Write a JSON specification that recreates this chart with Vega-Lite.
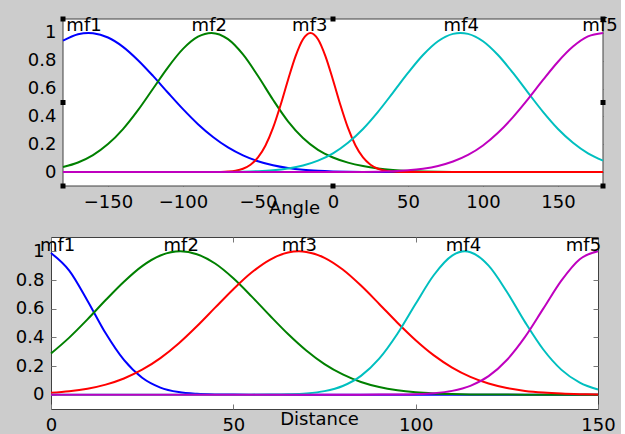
{
  "$schema": "https://vega.github.io/schema/vega-lite/v6.json",
  "background": "#cccccc",
  "padding": {"left": 5, "top": 16, "right": 3, "bottom": 0},
  "spacing": 19,
  "config": {
    "font": "DejaVu Sans",
    "view": {"stroke": "#404040", "strokeWidth": 1, "fill": "white"},
    "axis": {
      "domain": false,
      "grid": false,
      "tickSize": -5,
      "tickColor": "#777777",
      "labelPadding": 12,
      "labelFont": "DejaVu Sans",
      "labelFontSize": 18,
      "labelColor": "black",
      "labelFlush": false,
      "labelOverlap": false,
      "titleFont": "DejaVu Sans",
      "titleFontSize": 18,
      "titleFontWeight": "normal",
      "titleColor": "black"
    }
  },
  "datasets": {
    "angle": [
      {"mf": "mf1", "x": -180, "m": 0.944}, {"mf": "mf1", "x": -170, "m": 0.990}, {"mf": "mf1", "x": -163, "m": 1.0},
      {"mf": "mf1", "x": -160, "m": 0.998}, {"mf": "mf1", "x": -150, "m": 0.967}, {"mf": "mf1", "x": -140, "m": 0.900},
      {"mf": "mf1", "x": -130, "m": 0.804}, {"mf": "mf1", "x": -120, "m": 0.691}, {"mf": "mf1", "x": -110, "m": 0.570},
      {"mf": "mf1", "x": -100, "m": 0.452}, {"mf": "mf1", "x": -90, "m": 0.344}, {"mf": "mf1", "x": -80, "m": 0.252},
      {"mf": "mf1", "x": -70, "m": 0.177}, {"mf": "mf1", "x": -60, "m": 0.120}, {"mf": "mf1", "x": -50, "m": 0.078},
      {"mf": "mf1", "x": -40, "m": 0.0485}, {"mf": "mf1", "x": -30, "m": 0.0291}, {"mf": "mf1", "x": -20, "m": 0.0167},
      {"mf": "mf1", "x": -10, "m": 0.0093}, {"mf": "mf1", "x": 0, "m": 0.0049}, {"mf": "mf1", "x": 10, "m": 0.0025},
      {"mf": "mf1", "x": 20, "m": 0.0012}, {"mf": "mf1", "x": 30, "m": 0.0006}, {"mf": "mf1", "x": 40, "m": 0.0003},
      {"mf": "mf1", "x": 50, "m": 0.0001}, {"mf": "mf1", "x": 60, "m": 0}, {"mf": "mf1", "x": 100, "m": 0},
      {"mf": "mf1", "x": 140, "m": 0}, {"mf": "mf1", "x": 180, "m": 0},

      {"mf": "mf2", "x": -180, "m": 0.0367}, {"mf": "mf2", "x": -170, "m": 0.0691}, {"mf": "mf2", "x": -160, "m": 0.122},
      {"mf": "mf2", "x": -150, "m": 0.201}, {"mf": "mf2", "x": -140, "m": 0.309}, {"mf": "mf2", "x": -130, "m": 0.445},
      {"mf": "mf2", "x": -120, "m": 0.599}, {"mf": "mf2", "x": -110, "m": 0.753}, {"mf": "mf2", "x": -100, "m": 0.885},
      {"mf": "mf2", "x": -90, "m": 0.973}, {"mf": "mf2", "x": -81, "m": 1.0}, {"mf": "mf2", "x": -70, "m": 0.955},
      {"mf": "mf2", "x": -60, "m": 0.845}, {"mf": "mf2", "x": -50, "m": 0.69}, {"mf": "mf2", "x": -40, "m": 0.52},
      {"mf": "mf2", "x": -30, "m": 0.365}, {"mf": "mf2", "x": -20, "m": 0.245}, {"mf": "mf2", "x": -10, "m": 0.16},
      {"mf": "mf2", "x": 0, "m": 0.105}, {"mf": "mf2", "x": 10, "m": 0.068}, {"mf": "mf2", "x": 20, "m": 0.043},
      {"mf": "mf2", "x": 30, "m": 0.026}, {"mf": "mf2", "x": 40, "m": 0.015}, {"mf": "mf2", "x": 50, "m": 0.008},
      {"mf": "mf2", "x": 60, "m": 0.004}, {"mf": "mf2", "x": 70, "m": 0.002}, {"mf": "mf2", "x": 80, "m": 0.001},
      {"mf": "mf2", "x": 90, "m": 0.0005}, {"mf": "mf2", "x": 100, "m": 0}, {"mf": "mf2", "x": 140, "m": 0},
      {"mf": "mf2", "x": 180, "m": 0},

      {"mf": "mf3", "x": -180, "m": 0}, {"mf": "mf3", "x": -140, "m": 0}, {"mf": "mf3", "x": -100, "m": 0},
      {"mf": "mf3", "x": -90, "m": 0}, {"mf": "mf3", "x": -80, "m": 0.0004}, {"mf": "mf3", "x": -75, "m": 0.0013},
      {"mf": "mf3", "x": -70, "m": 0.0039}, {"mf": "mf3", "x": -65, "m": 0.0101}, {"mf": "mf3", "x": -60, "m": 0.0243},
      {"mf": "mf3", "x": -55, "m": 0.053}, {"mf": "mf3", "x": -50, "m": 0.105}, {"mf": "mf3", "x": -45, "m": 0.191},
      {"mf": "mf3", "x": -40, "m": 0.317}, {"mf": "mf3", "x": -35, "m": 0.480}, {"mf": "mf3", "x": -30, "m": 0.662},
      {"mf": "mf3", "x": -25, "m": 0.832}, {"mf": "mf3", "x": -20, "m": 0.955}, {"mf": "mf3", "x": -15, "m": 1.0},
      {"mf": "mf3", "x": -10, "m": 0.955}, {"mf": "mf3", "x": -5, "m": 0.832}, {"mf": "mf3", "x": 0, "m": 0.662},
      {"mf": "mf3", "x": 5, "m": 0.480}, {"mf": "mf3", "x": 10, "m": 0.317}, {"mf": "mf3", "x": 15, "m": 0.191},
      {"mf": "mf3", "x": 20, "m": 0.105}, {"mf": "mf3", "x": 25, "m": 0.053}, {"mf": "mf3", "x": 30, "m": 0.0243},
      {"mf": "mf3", "x": 35, "m": 0.0101}, {"mf": "mf3", "x": 40, "m": 0.0039}, {"mf": "mf3", "x": 45, "m": 0.0013},
      {"mf": "mf3", "x": 50, "m": 0.0004}, {"mf": "mf3", "x": 60, "m": 0}, {"mf": "mf3", "x": 100, "m": 0},
      {"mf": "mf3", "x": 140, "m": 0}, {"mf": "mf3", "x": 180, "m": 0},

      {"mf": "mf4", "x": -180, "m": 0}, {"mf": "mf4", "x": -140, "m": 0}, {"mf": "mf4", "x": -110, "m": 0},
      {"mf": "mf4", "x": -100, "m": 0.0001}, {"mf": "mf4", "x": -90, "m": 0.0002}, {"mf": "mf4", "x": -80, "m": 0.0005},
      {"mf": "mf4", "x": -70, "m": 0.0013}, {"mf": "mf4", "x": -60, "m": 0.003}, {"mf": "mf4", "x": -50, "m": 0.0064},
      {"mf": "mf4", "x": -40, "m": 0.0132}, {"mf": "mf4", "x": -30, "m": 0.0257}, {"mf": "mf4", "x": -20, "m": 0.0473},
      {"mf": "mf4", "x": -10, "m": 0.0822}, {"mf": "mf4", "x": 0, "m": 0.135}, {"mf": "mf4", "x": 10, "m": 0.211},
      {"mf": "mf4", "x": 20, "m": 0.310}, {"mf": "mf4", "x": 30, "m": 0.433}, {"mf": "mf4", "x": 40, "m": 0.571},
      {"mf": "mf4", "x": 50, "m": 0.712}, {"mf": "mf4", "x": 60, "m": 0.841}, {"mf": "mf4", "x": 70, "m": 0.940},
      {"mf": "mf4", "x": 80, "m": 0.993}, {"mf": "mf4", "x": 85, "m": 1.0}, {"mf": "mf4", "x": 90, "m": 0.993},
      {"mf": "mf4", "x": 100, "m": 0.940}, {"mf": "mf4", "x": 110, "m": 0.841}, {"mf": "mf4", "x": 120, "m": 0.712},
      {"mf": "mf4", "x": 130, "m": 0.571}, {"mf": "mf4", "x": 140, "m": 0.433}, {"mf": "mf4", "x": 150, "m": 0.310},
      {"mf": "mf4", "x": 160, "m": 0.211}, {"mf": "mf4", "x": 170, "m": 0.135}, {"mf": "mf4", "x": 180, "m": 0.0822},

      {"mf": "mf5", "x": -180, "m": 0}, {"mf": "mf5", "x": -140, "m": 0}, {"mf": "mf5", "x": -100, "m": 0},
      {"mf": "mf5", "x": -60, "m": 0}, {"mf": "mf5", "x": -20, "m": 0}, {"mf": "mf5", "x": -10, "m": 0.0001},
      {"mf": "mf5", "x": 0, "m": 0.0002}, {"mf": "mf5", "x": 10, "m": 0.0006}, {"mf": "mf5", "x": 20, "m": 0.0013},
      {"mf": "mf5", "x": 30, "m": 0.003}, {"mf": "mf5", "x": 40, "m": 0.0063}, {"mf": "mf5", "x": 50, "m": 0.0127},
      {"mf": "mf5", "x": 60, "m": 0.0243}, {"mf": "mf5", "x": 70, "m": 0.0439}, {"mf": "mf5", "x": 80, "m": 0.0756},
      {"mf": "mf5", "x": 90, "m": 0.123}, {"mf": "mf5", "x": 100, "m": 0.191}, {"mf": "mf5", "x": 110, "m": 0.282},
      {"mf": "mf5", "x": 120, "m": 0.395}, {"mf": "mf5", "x": 130, "m": 0.524}, {"mf": "mf5", "x": 140, "m": 0.662},
      {"mf": "mf5", "x": 150, "m": 0.793}, {"mf": "mf5", "x": 160, "m": 0.902}, {"mf": "mf5", "x": 170, "m": 0.975},
      {"mf": "mf5", "x": 180, "m": 1.0}
    ],
    "distance": [
      {"mf": "mf1", "x": 0, "m": 0.988}, {"mf": "mf1", "x": 5, "m": 0.866}, {"mf": "mf1", "x": 10, "m": 0.656},
      {"mf": "mf1", "x": 15, "m": 0.428}, {"mf": "mf1", "x": 20, "m": 0.242}, {"mf": "mf1", "x": 25, "m": 0.118},
      {"mf": "mf1", "x": 30, "m": 0.0496}, {"mf": "mf1", "x": 35, "m": 0.018}, {"mf": "mf1", "x": 40, "m": 0.0057},
      {"mf": "mf1", "x": 45, "m": 0.0015}, {"mf": "mf1", "x": 50, "m": 0.0004}, {"mf": "mf1", "x": 55, "m": 0.0001},
      {"mf": "mf1", "x": 60, "m": 0}, {"mf": "mf1", "x": 90, "m": 0}, {"mf": "mf1", "x": 120, "m": 0},
      {"mf": "mf1", "x": 150, "m": 0},

      {"mf": "mf2", "x": 0, "m": 0.287}, {"mf": "mf2", "x": 5, "m": 0.398}, {"mf": "mf2", "x": 10, "m": 0.525},
      {"mf": "mf2", "x": 15, "m": 0.660}, {"mf": "mf2", "x": 20, "m": 0.788}, {"mf": "mf2", "x": 25, "m": 0.897},
      {"mf": "mf2", "x": 30, "m": 0.971}, {"mf": "mf2", "x": 35.5, "m": 1.0}, {"mf": "mf2", "x": 40, "m": 0.980},
      {"mf": "mf2", "x": 45, "m": 0.915}, {"mf": "mf2", "x": 50, "m": 0.812}, {"mf": "mf2", "x": 55, "m": 0.686},
      {"mf": "mf2", "x": 60, "m": 0.552}, {"mf": "mf2", "x": 65, "m": 0.423}, {"mf": "mf2", "x": 70, "m": 0.308},
      {"mf": "mf2", "x": 75, "m": 0.213}, {"mf": "mf2", "x": 80, "m": 0.141}, {"mf": "mf2", "x": 85, "m": 0.088},
      {"mf": "mf2", "x": 90, "m": 0.0528}, {"mf": "mf2", "x": 95, "m": 0.0301}, {"mf": "mf2", "x": 100, "m": 0.0163},
      {"mf": "mf2", "x": 105, "m": 0.0084}, {"mf": "mf2", "x": 110, "m": 0.0041}, {"mf": "mf2", "x": 115, "m": 0.0019},
      {"mf": "mf2", "x": 120, "m": 0.0009}, {"mf": "mf2", "x": 125, "m": 0.0004}, {"mf": "mf2", "x": 130, "m": 0.0002},
      {"mf": "mf2", "x": 140, "m": 0}, {"mf": "mf2", "x": 150, "m": 0},

      {"mf": "mf3", "x": 0, "m": 0.0126}, {"mf": "mf3", "x": 5, "m": 0.0235}, {"mf": "mf3", "x": 10, "m": 0.0416},
      {"mf": "mf3", "x": 15, "m": 0.0703}, {"mf": "mf3", "x": 20, "m": 0.113}, {"mf": "mf3", "x": 25, "m": 0.174},
      {"mf": "mf3", "x": 30, "m": 0.255}, {"mf": "mf3", "x": 35, "m": 0.357}, {"mf": "mf3", "x": 40, "m": 0.477},
      {"mf": "mf3", "x": 45, "m": 0.607}, {"mf": "mf3", "x": 50, "m": 0.736}, {"mf": "mf3", "x": 55, "m": 0.852},
      {"mf": "mf3", "x": 60, "m": 0.941}, {"mf": "mf3", "x": 65, "m": 0.992}, {"mf": "mf3", "x": 68, "m": 1.0},
      {"mf": "mf3", "x": 70, "m": 0.996}, {"mf": "mf3", "x": 75, "m": 0.955}, {"mf": "mf3", "x": 80, "m": 0.873},
      {"mf": "mf3", "x": 85, "m": 0.761}, {"mf": "mf3", "x": 90, "m": 0.633}, {"mf": "mf3", "x": 95, "m": 0.502},
      {"mf": "mf3", "x": 100, "m": 0.380}, {"mf": "mf3", "x": 105, "m": 0.274}, {"mf": "mf3", "x": 110, "m": 0.189},
      {"mf": "mf3", "x": 115, "m": 0.124}, {"mf": "mf3", "x": 120, "m": 0.0776}, {"mf": "mf3", "x": 125, "m": 0.0464},
      {"mf": "mf3", "x": 130, "m": 0.0264}, {"mf": "mf3", "x": 135, "m": 0.0144}, {"mf": "mf3", "x": 140, "m": 0.0074},
      {"mf": "mf3", "x": 145, "m": 0.0037}, {"mf": "mf3", "x": 150, "m": 0.0017},

      {"mf": "mf4", "x": 0, "m": 0}, {"mf": "mf4", "x": 25, "m": 0}, {"mf": "mf4", "x": 50, "m": 0},
      {"mf": "mf4", "x": 55, "m": 0.0002}, {"mf": "mf4", "x": 60, "m": 0.0008}, {"mf": "mf4", "x": 65, "m": 0.0028},
      {"mf": "mf4", "x": 70, "m": 0.0088}, {"mf": "mf4", "x": 75, "m": 0.0246}, {"mf": "mf4", "x": 80, "m": 0.0605},
      {"mf": "mf4", "x": 85, "m": 0.131}, {"mf": "mf4", "x": 90, "m": 0.251}, {"mf": "mf4", "x": 95, "m": 0.425},
      {"mf": "mf4", "x": 100, "m": 0.634}, {"mf": "mf4", "x": 105, "m": 0.835}, {"mf": "mf4", "x": 110, "m": 0.970},
      {"mf": "mf4", "x": 113.5, "m": 1.0}, {"mf": "mf4", "x": 115, "m": 0.994}, {"mf": "mf4", "x": 120, "m": 0.900},
      {"mf": "mf4", "x": 125, "m": 0.718}, {"mf": "mf4", "x": 130, "m": 0.506}, {"mf": "mf4", "x": 135, "m": 0.315},
      {"mf": "mf4", "x": 140, "m": 0.173}, {"mf": "mf4", "x": 145, "m": 0.0837}, {"mf": "mf4", "x": 150, "m": 0.0358},

      {"mf": "mf5", "x": 0, "m": 0}, {"mf": "mf5", "x": 30, "m": 0}, {"mf": "mf5", "x": 60, "m": 0},
      {"mf": "mf5", "x": 80, "m": 0}, {"mf": "mf5", "x": 85, "m": 0.0001}, {"mf": "mf5", "x": 90, "m": 0.0003},
      {"mf": "mf5", "x": 95, "m": 0.001}, {"mf": "mf5", "x": 100, "m": 0.0034}, {"mf": "mf5", "x": 105, "m": 0.01},
      {"mf": "mf5", "x": 110, "m": 0.0264}, {"mf": "mf5", "x": 115, "m": 0.0618}, {"mf": "mf5", "x": 120, "m": 0.129},
      {"mf": "mf5", "x": 125, "m": 0.242}, {"mf": "mf5", "x": 130, "m": 0.403}, {"mf": "mf5", "x": 135, "m": 0.600},
      {"mf": "mf5", "x": 140, "m": 0.797}, {"mf": "mf5", "x": 145, "m": 0.945}, {"mf": "mf5", "x": 150, "m": 1.0}
    ],
    "angleLabels": [
      {"label": "mf1", "x": -166, "y": 1.012}, {"label": "mf2", "x": -82.5, "y": 1.012},
      {"label": "mf3", "x": -15.5, "y": 1.012}, {"label": "mf4", "x": 85.5, "y": 1.012},
      {"label": "mf5", "x": 178, "y": 1.012}
    ],
    "distanceLabels": [
      {"label": "mf1", "x": 1.8, "y": 1.0}, {"label": "mf2", "x": 35.7, "y": 1.0},
      {"label": "mf3", "x": 68.1, "y": 1.0}, {"label": "mf4", "x": 113.1, "y": 1.0},
      {"label": "mf5", "x": 146, "y": 1.0}
    ],
    "handles": [
      {"x": -180, "y": 1.1}, {"x": 0, "y": 1.1}, {"x": 180, "y": 1.1},
      {"x": -180, "y": 0.5}, {"x": 180, "y": 0.5},
      {"x": -180, "y": -0.1}, {"x": 0, "y": -0.1}, {"x": 180, "y": -0.1}
    ]
  },
  "vconcat": [
    {
      "width": 552,
      "height": 167,
      "view": {"stroke": null, "fill": null},
      "layer": [
        {
          "data": {"values": [{}]},
          "mark": {"type": "rect", "fill": "white", "stroke": "#404040", "strokeWidth": 1},
          "encoding": {
            "x": {"datum": -180, "type": "quantitative", "scale": {"domain": [-188, 180], "nice": false, "zero": false}, "axis": null},
            "x2": {"datum": 180},
            "y": {"datum": -0.1, "type": "quantitative", "scale": {"domain": [-0.1, 1.1], "nice": false, "zero": false}, "axis": null},
            "y2": {"datum": 1.1}
          }
        },
        {
          "data": {"name": "angle"},
          "mark": {"type": "line", "strokeWidth": 2, "interpolate": "monotone"},
          "encoding": {
            "x": {
              "field": "x", "type": "quantitative",
              "axis": {"values": [-150, -100, -50, 0, 50, 100, 150], "title": "Angle", "titleX": 243, "titleY": 27, "titleBaseline": "alphabetic"}
            },
            "y": {
              "field": "m", "type": "quantitative",
              "axis": {"values": [0, 0.2, 0.4, 0.6, 0.8, 1], "format": "~g", "title": null, "offset": -12, "minExtent": 0}
            },
            "color": {
              "field": "mf", "type": "nominal",
              "scale": {"domain": ["mf1", "mf2", "mf3", "mf4", "mf5"], "range": ["#0000ff", "#008000", "#ff0000", "#00bfbf", "#bf00bf"]},
              "legend": null
            }
          }
        },
        {
          "data": {"name": "angleLabels"},
          "mark": {"type": "text", "fontSize": 18, "align": "center", "baseline": "alphabetic", "color": "black"},
          "encoding": {
            "x": {"field": "x", "type": "quantitative", "axis": {"orient": "top", "labels": false, "title": null, "values": [-150, -100, -50, 0, 50, 100, 150]}},
            "y": {"field": "y", "type": "quantitative", "axis": {"orient": "right", "labels": false, "title": null, "values": [0, 0.2, 0.4, 0.6, 0.8, 1], "minExtent": 0}},
            "text": {"field": "label"}
          }
        },
        {
          "data": {"name": "handles"},
          "mark": {"type": "point", "shape": "square", "size": 25, "filled": true, "color": "black", "opacity": 1},
          "encoding": {
            "x": {"field": "x", "type": "quantitative", "axis": null},
            "y": {"field": "y", "type": "quantitative", "axis": null}
          }
        }
      ],
      "resolve": {"axis": {"x": "independent", "y": "independent"}}
    },
    {
      "width": 547,
      "height": 172,
      "layer": [
        {
          "data": {"name": "distance"},
          "mark": {"type": "line", "strokeWidth": 2, "interpolate": "monotone"},
          "encoding": {
            "x": {
              "field": "x", "type": "quantitative",
              "scale": {"domain": [0, 150], "nice": false},
              "axis": {"values": [0, 50, 100, 150], "title": "Distance", "titleX": 268, "titleY": 15, "titleBaseline": "alphabetic"}
            },
            "y": {
              "field": "m", "type": "quantitative",
              "scale": {"domain": [-0.1, 1.1], "nice": false, "zero": false},
              "axis": {"values": [0, 0.2, 0.4, 0.6, 0.8, 1], "format": "~g", "title": null, "minExtent": 45}
            },
            "color": {
              "field": "mf", "type": "nominal",
              "scale": {"domain": ["mf1", "mf2", "mf3", "mf4", "mf5"], "range": ["#0000ff", "#008000", "#ff0000", "#00bfbf", "#bf00bf"]},
              "legend": null
            }
          }
        },
        {
          "data": {"name": "distanceLabels"},
          "mark": {"type": "text", "fontSize": 18, "align": "center", "baseline": "alphabetic", "color": "black"},
          "encoding": {
            "x": {"field": "x", "type": "quantitative", "axis": {"orient": "top", "labels": false, "title": null, "values": [0, 50, 100, 150]}},
            "y": {"field": "y", "type": "quantitative", "axis": {"orient": "right", "labels": false, "title": null, "values": [0, 0.2, 0.4, 0.6, 0.8, 1], "minExtent": 0}},
            "text": {"field": "label"}
          }
        }
      ],
      "resolve": {"axis": {"x": "independent", "y": "independent"}}
    }
  ]
}
